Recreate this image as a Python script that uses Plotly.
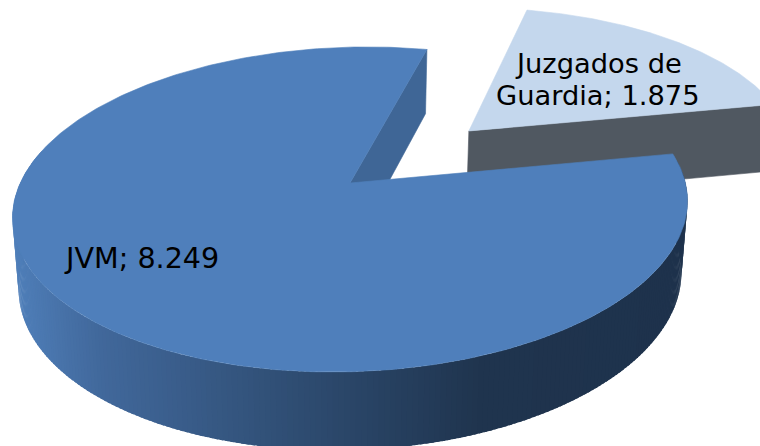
import math
import plotly.graph_objects as go

labels = ["Juzgados de<br>Guardia", "JVM"]
values = [1875, 8249]

START = 15.5
K = 0.163
TOP = dict(cx=350, cy=183, rx=333, a=158)
BOT = dict(cx=350, cy=253, rx=327, a=165)
TILT = -0.025
EXPLODE = (0.376, 0.327)
LIGHT, GRAY, BLUE, INNER = "#c4d7ed", "#505861", "#4f7fbb", "#3f6696"
STOPS = [(10, (80, 128, 187)), (100, (65, 104, 155)), (300, (46, 76, 113)),
         (480, (31, 52, 78)), (690, (30, 50, 76))]


def project(theta, plane, off=(0, 0), radius=1.0):
    t = math.radians(theta)
    X = radius * math.sin(t) + off[0]
    Y = radius * math.cos(t) + off[1]
    s = 1 / (1 + K * Y)
    x = plane["cx"] + X * plane["rx"] * s
    y = plane["cy"] - Y * plane["a"] * s + TILT * (x - 350)
    return x, y


def arc(a, b, plane, off=(0, 0), n=160):
    return [project(a + (b - a) * i / n, plane, off) for i in range(n + 1)]


def colour(x):
    if x <= STOPS[0][0]:
        c = STOPS[0][1]
    elif x >= STOPS[-1][0]:
        c = STOPS[-1][1]
    else:
        for (x0, c0), (x1, c1) in zip(STOPS, STOPS[1:]):
            if x0 <= x <= x1:
                f = (x - x0) / (x1 - x0)
                c = tuple(c0[i] + (c1[i] - c0[i]) * f for i in range(3))
                break
    return "rgb(%d,%d,%d)" % tuple(round(v) for v in c)


fig = go.Figure()


def poly(pts, fill, width=0.6):
    xs = [p[0] for p in pts] + [pts[0][0]]
    ys = [p[1] for p in pts] + [pts[0][1]]
    fig.add_trace(go.Scatter(x=xs, y=ys, mode="lines", fill="toself", fillcolor=fill,
                             line=dict(color=fill, width=width),
                             hoverinfo="skip", showlegend=False))


total = sum(values)
sweeps = [v / total * 360 for v in values]
a0, a1 = START, START + sweeps[0]
a2 = a1 + sweeps[1]

# exploded slice: wall then top
centre_top = project(0, TOP, EXPLODE, 0)
centre_bot = project(0, BOT, EXPLODE, 0)
edge_t = project(a1, TOP, EXPLODE)
edge_b = project(a1, BOT, EXPLODE)
poly([centre_top, edge_t, edge_b, centre_bot], GRAY)
poly([centre_top] + arc(a0, a1, TOP, EXPLODE), LIGHT)

# large slice: inner wall, outer wall strips (overlapping to hide seams), top
c_t, c_b = project(0, TOP, radius=0), project(0, BOT, radius=0)
poly([c_t, project(a2, TOP), project(a2, BOT), c_b], INNER)
steps = 240
lo, hi = 85.0, 285.0
for i in range(steps):
    p = lo + (hi - lo) * i / steps
    q = lo + (hi - lo) * (i + 1.6) / steps
    pts = [project(p, TOP), project(q, TOP), project(q, BOT), project(p, BOT)]
    poly(pts, colour(sum(pt[0] for pt in pts) / 4), width=0)
poly([c_t] + arc(a1, a2, TOP, n=360), BLUE)

texts = [f"{lab}; {val:,}".replace(",", ".") for lab, val in zip(labels, values)]
# each label line is placed on its own so the line gap can match the reference
placed = [(texts[0].split("<br>")[0], 598.5, 63.5, 27.3),
          (texts[0].split("<br>")[1], 598, 95.5, 27.3),
          (texts[1], 141.5, 258, 28.6)]
for t, x, y, size in placed:
    fig.add_annotation(x=x, y=y, text=t, showarrow=False, xref="x", yref="y",
                       font=dict(family="DejaVu Sans", size=size, color="#000000"))

fig.update_layout(width=760, height=446, margin=dict(l=0, r=0, t=0, b=0),
                  paper_bgcolor="white", plot_bgcolor="white", showlegend=False,
                  xaxis=dict(range=[0, 760], visible=False, fixedrange=True),
                  yaxis=dict(range=[446, 0], visible=False, fixedrange=True))
fig.write_html("out.html", config={"displayModeBar": False},
               post_script="document.body.style.margin='0';document.body.style.overflow='hidden';")
